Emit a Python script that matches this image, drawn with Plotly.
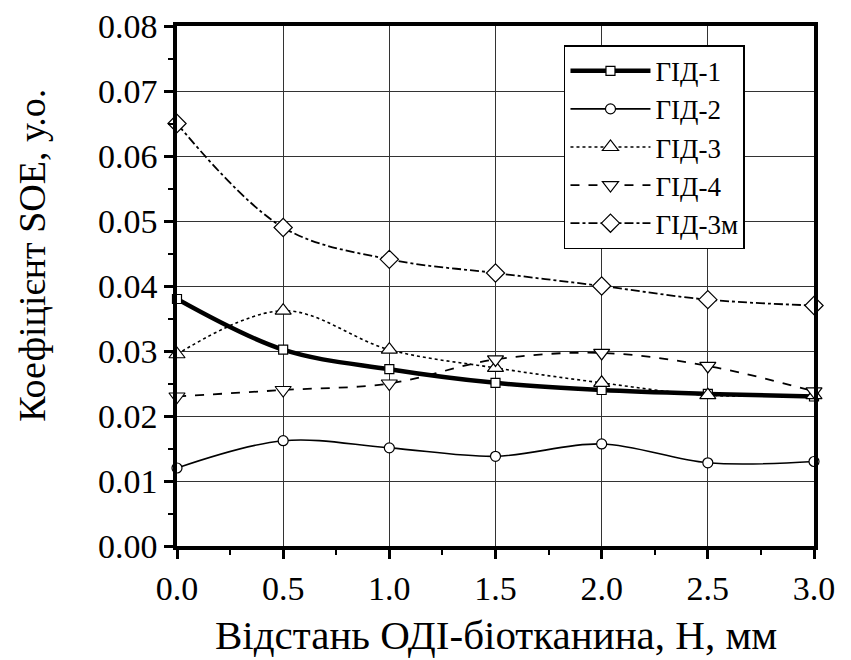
import plotly.graph_objects as go

x = [0.0, 0.5, 1.0, 1.5, 2.0, 2.5, 3.0]
gid1 = [0.038, 0.0302, 0.0272, 0.0251, 0.0240, 0.0234, 0.0230]
gid2 = [0.0120, 0.0162, 0.0151, 0.0138, 0.0157, 0.0128, 0.0130]
gid3 = [0.0295, 0.0362, 0.0302, 0.0274, 0.0251, 0.0232, 0.0232]
gid4 = [0.0230, 0.0240, 0.0250, 0.0287, 0.0297, 0.0277, 0.0238]
gid3m = [0.0650, 0.0490, 0.0441, 0.0420, 0.0400, 0.0379, 0.0370]

names = ["ГІД-1", "ГІД-2", "ГІД-3", "ГІД-4", "ГІД-3м"]
x_ticks = [0.0, 0.5, 1.0, 1.5, 2.0, 2.5, 3.0]
y_ticks = [0.00, 0.01, 0.02, 0.03, 0.04, 0.05, 0.06, 0.07, 0.08]
x_title = "Відстань ОДІ-біотканина, Н, мм"
y_title = "Коефіцієнт SOE, у.о."

FONT = "Liberation Serif, Times New Roman, Times, serif"

styles = [
    dict(width=4.5, dash="solid", symbol="square", size=9),
    dict(width=1.6, dash="solid", symbol="circle", size=10),
    dict(width=1.6, dash="dot", symbol="triangle-up", size=14),
    dict(width=1.8, dash="dash", symbol="triangle-down", size=14),
    dict(width=1.8, dash="dashdot", symbol="diamond", size=14),
]

fig = go.Figure()
for name, ys, st in zip(names, [gid1, gid2, gid3, gid4, gid3m], styles):
    fig.add_trace(go.Scatter(
        x=x, y=ys, name=name, mode="lines+markers", cliponaxis=False,
        line=dict(color="black", width=st["width"], dash=st["dash"], shape="spline", smoothing=1.0),
        marker=dict(symbol=st["symbol"], size=st["size"], color="white",
                    line=dict(color="black", width=1.2)),
    ))

axis_common = dict(
    showline=True, linecolor="black", linewidth=3.5, mirror=True,
    showgrid=True, gridcolor="#333333", gridwidth=1,
    ticks="outside", ticklen=9, tickwidth=2.5, tickcolor="black",
    tickfont=dict(family=FONT, size=34, color="black"),
    zeroline=False, automargin=False, ticklabeloverflow="allow",
)

fig.update_xaxes(range=[0, 3.0], tickvals=x_ticks, ticktext=[f"{v:.1f}" for v in x_ticks],
                 minor=dict(ticks="outside", ticklen=5, tickwidth=2, tickcolor="black", dtick=0.25, showgrid=False),
                 **axis_common)
fig.update_yaxes(range=[0, 0.08], tickvals=y_ticks, ticktext=[f"{v:.2f}" for v in y_ticks],
                 minor=dict(ticks="outside", ticklen=5, tickwidth=2, tickcolor="black", dtick=0.005, showgrid=False),
                 **axis_common)

fig.add_annotation(text=x_title, xref="paper", yref="paper", x=0.5, y=-0.171,
                   xanchor="center", yanchor="middle", showarrow=False,
                   font=dict(family=FONT, size=41, color="black"))
fig.add_annotation(text=y_title, xref="paper", yref="paper", x=-0.2276, y=0.558,
                   xanchor="center", yanchor="middle", showarrow=False, textangle=-90,
                   font=dict(family=FONT, size=38, color="black"))

fig.update_layout(
    width=843, height=652,
    margin=dict(l=169, r=37, t=18, b=114),
    plot_bgcolor="white", paper_bgcolor="white",
    font=dict(family=FONT, color="black"),
    legend=dict(x=0.6075, y=0.963, xanchor="left", yanchor="top",
                bgcolor="white", bordercolor="black", borderwidth=1.5,
                font=dict(family=FONT, size=27, color="black"),
                itemwidth=80, tracegroupgap=0),
    showlegend=True,
)

fig.write_html("out.html")
